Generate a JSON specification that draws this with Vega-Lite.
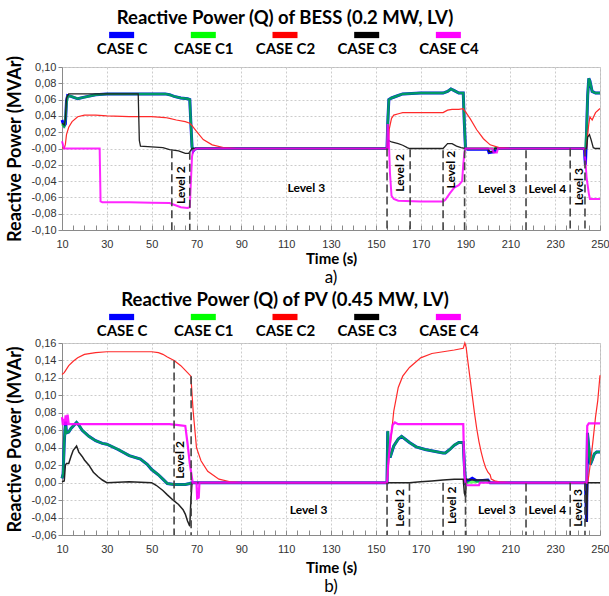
{
"$schema": "https://vega.github.io/schema/vega-lite/v6.json",
"padding": {"left": 6, "top": 9, "right": 0, "bottom": 0},
"background": "white",
"config": {
  "font": "Lato",
  "view": {"stroke": "#bdbdbd"},
  "axis": {"labelFont": "Liberation Sans", "labelFontSize": 11, "labelColor": "#333333", "domainColor": "#8a8a8a", "tickColor": "#8a8a8a", "gridColor": "#cccccc", "gridDash": [2, 2], "titleFont": "Lato", "titleFontWeight": "bold", "titleColor": "#000000"},
  "title": {"font": "Lato", "color": "#000000"}
},
"datasets": {
  "cases": [{"case": "CASE C"}, {"case": "CASE C1"}, {"case": "CASE C2"}, {"case": "CASE C3"}, {"case": "CASE C4"}],
  "bess": [
    {"t":10,"q":0.035,"c":"C"},{"t":10.5,"q":0.031,"c":"C"},{"t":11,"q":0.028,"c":"C"},{"t":11.5,"q":0.03,"c":"C"},{"t":12,"q":0.058,"c":"C"},{"t":12.5,"q":0.065,"c":"C"},{"t":14,"q":0.064,"c":"C"},{"t":17,"q":0.061,"c":"C"},{"t":20,"q":0.063,"c":"C"},{"t":25,"q":0.066,"c":"C"},{"t":30,"q":0.067,"c":"C"},{"t":44,"q":0.067,"c":"C"},{"t":50,"q":0.067,"c":"C"},{"t":56,"q":0.067,"c":"C"},{"t":58,"q":0.066,"c":"C"},{"t":60,"q":0.064,"c":"C"},{"t":63,"q":0.062,"c":"C"},{"t":66,"q":0.061,"c":"C"},{"t":67,"q":0.06,"c":"C"},{"t":67.5,"q":0.03,"c":"C"},{"t":68,"q":0.002,"c":"C"},{"t":68.5,"q":-0.003,"c":"C"},{"t":69,"q":-0.001,"c":"C"},{"t":70,"q":0,"c":"C"},{"t":155,"q":0,"c":"C"},{"t":155.3,"q":0.03,"c":"C"},{"t":155.8,"q":0.06,"c":"C"},{"t":157,"q":0.062,"c":"C"},{"t":160,"q":0.065,"c":"C"},{"t":162,"q":0.067,"c":"C"},{"t":170,"q":0.068,"c":"C"},{"t":180,"q":0.068,"c":"C"},{"t":182,"q":0.07,"c":"C"},{"t":183.5,"q":0.073,"c":"C"},{"t":185,"q":0.071,"c":"C"},{"t":187,"q":0.068,"c":"C"},{"t":189,"q":0.068,"c":"C"},{"t":189.5,"q":0.03,"c":"C"},{"t":190,"q":0,"c":"C"},{"t":191,"q":-0.001,"c":"C"},{"t":200,"q":-0.001,"c":"C"},{"t":200.5,"q":-0.005,"c":"C"},{"t":203,"q":-0.004,"c":"C"},{"t":203.5,"q":0,"c":"C"},{"t":243,"q":0,"c":"C"},{"t":243.5,"q":-0.02,"c":"C"},{"t":244,"q":0.02,"c":"C"},{"t":244.5,"q":0.065,"c":"C"},{"t":245,"q":0.086,"c":"C"},{"t":245.5,"q":0.083,"c":"C"},{"t":246.5,"q":0.07,"c":"C"},{"t":248,"q":0.068,"c":"C"},{"t":250,"q":0.068,"c":"C"},
    {"t":10,"q":0.03,"c":"C1"},{"t":10.5,"q":0.028,"c":"C1"},{"t":11,"q":0.027,"c":"C1"},{"t":11.5,"q":0.035,"c":"C1"},{"t":12,"q":0.055,"c":"C1"},{"t":12.5,"q":0.064,"c":"C1"},{"t":14,"q":0.064,"c":"C1"},{"t":17,"q":0.061,"c":"C1"},{"t":20,"q":0.063,"c":"C1"},{"t":25,"q":0.066,"c":"C1"},{"t":30,"q":0.067,"c":"C1"},{"t":44,"q":0.067,"c":"C1"},{"t":50,"q":0.067,"c":"C1"},{"t":56,"q":0.067,"c":"C1"},{"t":58,"q":0.066,"c":"C1"},{"t":60,"q":0.064,"c":"C1"},{"t":63,"q":0.062,"c":"C1"},{"t":66,"q":0.061,"c":"C1"},{"t":67,"q":0.06,"c":"C1"},{"t":67.5,"q":0.03,"c":"C1"},{"t":68,"q":0.002,"c":"C1"},{"t":68.5,"q":-0.002,"c":"C1"},{"t":69,"q":-0.001,"c":"C1"},{"t":70,"q":0,"c":"C1"},{"t":155,"q":0,"c":"C1"},{"t":155.3,"q":0.03,"c":"C1"},{"t":155.8,"q":0.06,"c":"C1"},{"t":157,"q":0.062,"c":"C1"},{"t":160,"q":0.065,"c":"C1"},{"t":162,"q":0.067,"c":"C1"},{"t":170,"q":0.068,"c":"C1"},{"t":180,"q":0.068,"c":"C1"},{"t":182,"q":0.07,"c":"C1"},{"t":183.5,"q":0.073,"c":"C1"},{"t":185,"q":0.071,"c":"C1"},{"t":187,"q":0.068,"c":"C1"},{"t":189,"q":0.068,"c":"C1"},{"t":189.5,"q":0.03,"c":"C1"},{"t":190,"q":0,"c":"C1"},{"t":191,"q":0,"c":"C1"},{"t":243.5,"q":0,"c":"C1"},{"t":244,"q":0.02,"c":"C1"},{"t":244.5,"q":0.065,"c":"C1"},{"t":245,"q":0.086,"c":"C1"},{"t":245.5,"q":0.083,"c":"C1"},{"t":246.5,"q":0.07,"c":"C1"},{"t":248,"q":0.068,"c":"C1"},{"t":250,"q":0.068,"c":"C1"},
    {"t":10,"q":0.001,"c":"C2"},{"t":11,"q":0,"c":"C2"},{"t":11.5,"q":0.005,"c":"C2"},{"t":12,"q":0.017,"c":"C2"},{"t":13,"q":0.026,"c":"C2"},{"t":14.5,"q":0.033,"c":"C2"},{"t":17,"q":0.039,"c":"C2"},{"t":20,"q":0.041,"c":"C2"},{"t":25,"q":0.041,"c":"C2"},{"t":30,"q":0.04,"c":"C2"},{"t":40,"q":0.039,"c":"C2"},{"t":50,"q":0.039,"c":"C2"},{"t":56,"q":0.038,"c":"C2"},{"t":58,"q":0.037,"c":"C2"},{"t":61,"q":0.035,"c":"C2"},{"t":65,"q":0.033,"c":"C2"},{"t":67,"q":0.031,"c":"C2"},{"t":68,"q":0.028,"c":"C2"},{"t":70,"q":0.021,"c":"C2"},{"t":73,"q":0.011,"c":"C2"},{"t":77,"q":0.0045,"c":"C2"},{"t":82,"q":0.0012,"c":"C2"},{"t":88,"q":0,"c":"C2"},{"t":155.5,"q":0,"c":"C2"},{"t":156,"q":0.024,"c":"C2"},{"t":157,"q":0.037,"c":"C2"},{"t":158,"q":0.041,"c":"C2"},{"t":160.5,"q":0.043,"c":"C2"},{"t":162,"q":0.044,"c":"C2"},{"t":170,"q":0.044,"c":"C2"},{"t":180,"q":0.044,"c":"C2"},{"t":182,"q":0.047,"c":"C2"},{"t":184,"q":0.048,"c":"C2"},{"t":187,"q":0.048,"c":"C2"},{"t":189,"q":0.049,"c":"C2"},{"t":190,"q":0.045,"c":"C2"},{"t":192,"q":0.037,"c":"C2"},{"t":195,"q":0.023,"c":"C2"},{"t":198,"q":0.012,"c":"C2"},{"t":201,"q":0.0045,"c":"C2"},{"t":205,"q":0.001,"c":"C2"},{"t":210,"q":0,"c":"C2"},{"t":244,"q":0,"c":"C2"},{"t":244.5,"q":0.017,"c":"C2"},{"t":245,"q":0.03,"c":"C2"},{"t":245.5,"q":0.039,"c":"C2"},{"t":246.5,"q":0.035,"c":"C2"},{"t":248,"q":0.044,"c":"C2"},{"t":250,"q":0.049,"c":"C2"},
    {"t":10,"q":0.031,"c":"C3"},{"t":11,"q":0.029,"c":"C3"},{"t":11.5,"q":0.035,"c":"C3"},{"t":12,"q":0.062,"c":"C3"},{"t":13,"q":0.067,"c":"C3"},{"t":44,"q":0.067,"c":"C3"},{"t":44.5,"q":0.01,"c":"C3"},{"t":45,"q":0.003,"c":"C3"},{"t":50,"q":0.002,"c":"C3"},{"t":55,"q":0.001,"c":"C3"},{"t":58,"q":-0.0015,"c":"C3"},{"t":62,"q":-0.003,"c":"C3"},{"t":65,"q":-0.006,"c":"C3"},{"t":66.5,"q":-0.006,"c":"C3"},{"t":67,"q":-0.004,"c":"C3"},{"t":68,"q":0,"c":"C3"},{"t":155,"q":0,"c":"C3"},{"t":155.5,"q":0.01,"c":"C3"},{"t":157,"q":0.008,"c":"C3"},{"t":160,"q":0.006,"c":"C3"},{"t":162,"q":0.004,"c":"C3"},{"t":164,"q":0.001,"c":"C3"},{"t":165,"q":0,"c":"C3"},{"t":180,"q":0,"c":"C3"},{"t":182,"q":0.006,"c":"C3"},{"t":184,"q":0.006,"c":"C3"},{"t":186,"q":0.003,"c":"C3"},{"t":188,"q":0.001,"c":"C3"},{"t":190,"q":0,"c":"C3"},{"t":200,"q":0,"c":"C3"},{"t":200.5,"q":-0.004,"c":"C3"},{"t":202,"q":-0.004,"c":"C3"},{"t":203,"q":0,"c":"C3"},{"t":244,"q":0,"c":"C3"},{"t":244.5,"q":0.014,"c":"C3"},{"t":245.3,"q":0.017,"c":"C3"},{"t":246,"q":0.011,"c":"C3"},{"t":247,"q":0.001,"c":"C3"},{"t":248,"q":0,"c":"C3"},{"t":250,"q":0,"c":"C3"},
    {"t":10,"q":0.009,"c":"C4"},{"t":10.5,"q":0.004,"c":"C4"},{"t":11,"q":0,"c":"C4"},{"t":26.8,"q":0,"c":"C4"},{"t":27.2,"q":-0.065,"c":"C4"},{"t":28,"q":-0.066,"c":"C4"},{"t":40,"q":-0.066,"c":"C4"},{"t":50,"q":-0.0665,"c":"C4"},{"t":58,"q":-0.067,"c":"C4"},{"t":60,"q":-0.069,"c":"C4"},{"t":63,"q":-0.072,"c":"C4"},{"t":66,"q":-0.073,"c":"C4"},{"t":67,"q":-0.072,"c":"C4"},{"t":67.5,"q":-0.04,"c":"C4"},{"t":68,"q":-0.01,"c":"C4"},{"t":68.5,"q":-0.003,"c":"C4"},{"t":70,"q":0,"c":"C4"},{"t":155,"q":0,"c":"C4"},{"t":155.3,"q":0.03,"c":"C4"},{"t":155.8,"q":0.01,"c":"C4"},{"t":156.3,"q":-0.03,"c":"C4"},{"t":157,"q":-0.058,"c":"C4"},{"t":158,"q":-0.062,"c":"C4"},{"t":160,"q":-0.064,"c":"C4"},{"t":170,"q":-0.065,"c":"C4"},{"t":180,"q":-0.065,"c":"C4"},{"t":181,"q":-0.063,"c":"C4"},{"t":183,"q":-0.055,"c":"C4"},{"t":185,"q":-0.048,"c":"C4"},{"t":187,"q":-0.045,"c":"C4"},{"t":188.5,"q":-0.04,"c":"C4"},{"t":189,"q":-0.02,"c":"C4"},{"t":189.5,"q":-0.005,"c":"C4"},{"t":190,"q":0,"c":"C4"},{"t":202,"q":0,"c":"C4"},{"t":202.5,"q":-0.005,"c":"C4"},{"t":204,"q":-0.005,"c":"C4"},{"t":204.5,"q":0,"c":"C4"},{"t":243,"q":0,"c":"C4"},{"t":243.5,"q":-0.015,"c":"C4"},{"t":244,"q":-0.035,"c":"C4"},{"t":245,"q":-0.055,"c":"C4"},{"t":245.5,"q":-0.062,"c":"C4"},{"t":250,"q":-0.062,"c":"C4"}
  ],
  "pv": [
    {"t":10,"q":0.005,"c":"C"},{"t":10.5,"q":0.01,"c":"C"},{"t":11,"q":0.045,"c":"C"},{"t":11.3,"q":0.06,"c":"C"},{"t":11.6,"q":0.07,"c":"C"},{"t":12,"q":0.057,"c":"C"},{"t":13,"q":0.058,"c":"C"},{"t":14,"q":0.062,"c":"C"},{"t":16.5,"q":0.069,"c":"C"},{"t":17.5,"q":0.066,"c":"C"},{"t":19,"q":0.06,"c":"C"},{"t":22,"q":0.053,"c":"C"},{"t":25,"q":0.048,"c":"C"},{"t":28,"q":0.045,"c":"C"},{"t":30,"q":0.044,"c":"C"},{"t":35,"q":0.038,"c":"C"},{"t":40,"q":0.031,"c":"C"},{"t":45,"q":0.027,"c":"C"},{"t":48,"q":0.021,"c":"C"},{"t":50,"q":0.015,"c":"C"},{"t":53,"q":0.009,"c":"C"},{"t":55,"q":0.004,"c":"C"},{"t":57,"q":-0.001,"c":"C"},{"t":60,"q":-0.002,"c":"C"},{"t":65,"q":-0.002,"c":"C"},{"t":67,"q":-0.001,"c":"C"},{"t":68,"q":0,"c":"C"},{"t":155,"q":0,"c":"C"},{"t":155.3,"q":0.059,"c":"C"},{"t":155.7,"q":0.03,"c":"C"},{"t":156.5,"q":0.03,"c":"C"},{"t":158,"q":0.042,"c":"C"},{"t":160,"q":0.05,"c":"C"},{"t":161.5,"q":0.053,"c":"C"},{"t":163,"q":0.05,"c":"C"},{"t":165,"q":0.046,"c":"C"},{"t":168,"q":0.041,"c":"C"},{"t":172,"q":0.038,"c":"C"},{"t":176,"q":0.036,"c":"C"},{"t":180,"q":0.034,"c":"C"},{"t":181,"q":0.034,"c":"C"},{"t":183,"q":0.038,"c":"C"},{"t":185,"q":0.043,"c":"C"},{"t":187,"q":0.046,"c":"C"},{"t":189,"q":0.046,"c":"C"},{"t":189.5,"q":0.02,"c":"C"},{"t":190,"q":0,"c":"C"},{"t":190.5,"q":0.001,"c":"C"},{"t":193,"q":0.005,"c":"C"},{"t":195,"q":0.002,"c":"C"},{"t":200,"q":0.003,"c":"C"},{"t":201,"q":0,"c":"C"},{"t":243.5,"q":0,"c":"C"},{"t":244,"q":-0.045,"c":"C"},{"t":244.4,"q":0.057,"c":"C"},{"t":245,"q":0.04,"c":"C"},{"t":245.7,"q":0.021,"c":"C"},{"t":246.5,"q":0.026,"c":"C"},{"t":247.5,"q":0.033,"c":"C"},{"t":248.5,"q":0.035,"c":"C"},{"t":250,"q":0.035,"c":"C"},
    {"t":10,"q":0.005,"c":"C1"},{"t":10.5,"q":0.01,"c":"C1"},{"t":11,"q":0.045,"c":"C1"},{"t":11.3,"q":0.06,"c":"C1"},{"t":11.6,"q":0.065,"c":"C1"},{"t":12,"q":0.057,"c":"C1"},{"t":13,"q":0.058,"c":"C1"},{"t":14,"q":0.062,"c":"C1"},{"t":16.5,"q":0.069,"c":"C1"},{"t":17.5,"q":0.066,"c":"C1"},{"t":19,"q":0.06,"c":"C1"},{"t":22,"q":0.053,"c":"C1"},{"t":25,"q":0.048,"c":"C1"},{"t":28,"q":0.045,"c":"C1"},{"t":30,"q":0.044,"c":"C1"},{"t":35,"q":0.038,"c":"C1"},{"t":40,"q":0.031,"c":"C1"},{"t":45,"q":0.027,"c":"C1"},{"t":48,"q":0.021,"c":"C1"},{"t":50,"q":0.015,"c":"C1"},{"t":53,"q":0.009,"c":"C1"},{"t":55,"q":0.004,"c":"C1"},{"t":57,"q":-0.001,"c":"C1"},{"t":60,"q":-0.002,"c":"C1"},{"t":65,"q":-0.002,"c":"C1"},{"t":67,"q":-0.001,"c":"C1"},{"t":68,"q":0,"c":"C1"},{"t":155,"q":0,"c":"C1"},{"t":155.3,"q":0.059,"c":"C1"},{"t":155.7,"q":0.03,"c":"C1"},{"t":156.5,"q":0.03,"c":"C1"},{"t":158,"q":0.042,"c":"C1"},{"t":160,"q":0.05,"c":"C1"},{"t":161.5,"q":0.053,"c":"C1"},{"t":163,"q":0.05,"c":"C1"},{"t":165,"q":0.046,"c":"C1"},{"t":168,"q":0.041,"c":"C1"},{"t":172,"q":0.038,"c":"C1"},{"t":176,"q":0.036,"c":"C1"},{"t":180,"q":0.034,"c":"C1"},{"t":181,"q":0.034,"c":"C1"},{"t":183,"q":0.038,"c":"C1"},{"t":185,"q":0.043,"c":"C1"},{"t":187,"q":0.046,"c":"C1"},{"t":189,"q":0.046,"c":"C1"},{"t":189.5,"q":0.02,"c":"C1"},{"t":190,"q":0,"c":"C1"},{"t":200,"q":0.002,"c":"C1"},{"t":201,"q":0,"c":"C1"},{"t":244,"q":0,"c":"C1"},{"t":244.4,"q":0.057,"c":"C1"},{"t":245,"q":0.04,"c":"C1"},{"t":245.7,"q":0.021,"c":"C1"},{"t":246.5,"q":0.026,"c":"C1"},{"t":247.5,"q":0.033,"c":"C1"},{"t":248.5,"q":0.035,"c":"C1"},{"t":250,"q":0.035,"c":"C1"},
    {"t":10,"q":0.124,"c":"C2"},{"t":11,"q":0.126,"c":"C2"},{"t":12,"q":0.13,"c":"C2"},{"t":13,"q":0.134,"c":"C2"},{"t":15,"q":0.139,"c":"C2"},{"t":17,"q":0.143,"c":"C2"},{"t":20,"q":0.147,"c":"C2"},{"t":25,"q":0.149,"c":"C2"},{"t":30,"q":0.15,"c":"C2"},{"t":40,"q":0.15,"c":"C2"},{"t":50,"q":0.15,"c":"C2"},{"t":53,"q":0.149,"c":"C2"},{"t":55,"q":0.147,"c":"C2"},{"t":57,"q":0.144,"c":"C2"},{"t":60,"q":0.14,"c":"C2"},{"t":63,"q":0.134,"c":"C2"},{"t":66,"q":0.126,"c":"C2"},{"t":67.5,"q":0.122,"c":"C2"},{"t":68.5,"q":0.082,"c":"C2"},{"t":70,"q":0.04,"c":"C2"},{"t":72,"q":0.025,"c":"C2"},{"t":75,"q":0.013,"c":"C2"},{"t":80,"q":0.004,"c":"C2"},{"t":85,"q":0.001,"c":"C2"},{"t":90,"q":0,"c":"C2"},{"t":155,"q":0,"c":"C2"},{"t":156,"q":0.032,"c":"C2"},{"t":158,"q":0.082,"c":"C2"},{"t":160,"q":0.109,"c":"C2"},{"t":162,"q":0.122,"c":"C2"},{"t":165,"q":0.132,"c":"C2"},{"t":170,"q":0.143,"c":"C2"},{"t":175,"q":0.148,"c":"C2"},{"t":180,"q":0.15,"c":"C2"},{"t":185,"q":0.152,"c":"C2"},{"t":189,"q":0.154,"c":"C2"},{"t":189.7,"q":0.16,"c":"C2"},{"t":190.3,"q":0.155,"c":"C2"},{"t":191,"q":0.14,"c":"C2"},{"t":192,"q":0.12,"c":"C2"},{"t":193,"q":0.1,"c":"C2"},{"t":194,"q":0.08,"c":"C2"},{"t":195,"q":0.062,"c":"C2"},{"t":196,"q":0.047,"c":"C2"},{"t":197,"q":0.035,"c":"C2"},{"t":198,"q":0.025,"c":"C2"},{"t":199,"q":0.017,"c":"C2"},{"t":200,"q":0.012,"c":"C2"},{"t":201,"q":0.009,"c":"C2"},{"t":201.5,"q":0.004,"c":"C2"},{"t":203,"q":0.002,"c":"C2"},{"t":205,"q":0.001,"c":"C2"},{"t":210,"q":0,"c":"C2"},{"t":244.5,"q":0,"c":"C2"},{"t":245,"q":0.008,"c":"C2"},{"t":246,"q":0.028,"c":"C2"},{"t":247,"q":0.051,"c":"C2"},{"t":248,"q":0.075,"c":"C2"},{"t":249,"q":0.094,"c":"C2"},{"t":250,"q":0.123,"c":"C2"},
    {"t":10,"q":0.001,"c":"C3"},{"t":11,"q":0.002,"c":"C3"},{"t":11.5,"q":0.02,"c":"C3"},{"t":12,"q":0.022,"c":"C3"},{"t":13,"q":0.022,"c":"C3"},{"t":14,"q":0.03,"c":"C3"},{"t":15,"q":0.037,"c":"C3"},{"t":16.5,"q":0.042,"c":"C3"},{"t":17.5,"q":0.035,"c":"C3"},{"t":19,"q":0.03,"c":"C3"},{"t":20,"q":0.026,"c":"C3"},{"t":22,"q":0.02,"c":"C3"},{"t":24,"q":0.012,"c":"C3"},{"t":26,"q":0.007,"c":"C3"},{"t":28,"q":0.003,"c":"C3"},{"t":30,"q":0,"c":"C3"},{"t":40,"q":0.001,"c":"C3"},{"t":50,"q":0,"c":"C3"},{"t":52,"q":-0.003,"c":"C3"},{"t":55,"q":-0.009,"c":"C3"},{"t":57,"q":-0.014,"c":"C3"},{"t":60,"q":-0.021,"c":"C3"},{"t":62,"q":-0.025,"c":"C3"},{"t":64,"q":-0.031,"c":"C3"},{"t":65,"q":-0.036,"c":"C3"},{"t":66,"q":-0.044,"c":"C3"},{"t":67,"q":-0.05,"c":"C3"},{"t":67.5,"q":-0.02,"c":"C3"},{"t":68,"q":0,"c":"C3"},{"t":155,"q":0,"c":"C3"},{"t":165,"q":0,"c":"C3"},{"t":170,"q":0.001,"c":"C3"},{"t":175,"q":0.002,"c":"C3"},{"t":180,"q":0.003,"c":"C3"},{"t":185,"q":0.004,"c":"C3"},{"t":189,"q":0.004,"c":"C3"},{"t":189.5,"q":-0.012,"c":"C3"},{"t":190,"q":-0.016,"c":"C3"},{"t":190.3,"q":0.004,"c":"C3"},{"t":193,"q":0.003,"c":"C3"},{"t":200,"q":0.003,"c":"C3"},{"t":201,"q":0,"c":"C3"},{"t":243.5,"q":0,"c":"C3"},{"t":244,"q":-0.045,"c":"C3"},{"t":244.5,"q":0,"c":"C3"},{"t":250,"q":0,"c":"C3"},
    {"t":10,"q":0.075,"c":"C4"},{"t":10.4,"q":0.066,"c":"C4"},{"t":10.8,"q":0.073,"c":"C4"},{"t":11.2,"q":0.066,"c":"C4"},{"t":11.6,"q":0.077,"c":"C4"},{"t":12,"q":0.066,"c":"C4"},{"t":12.5,"q":0.078,"c":"C4"},{"t":13,"q":0.067,"c":"C4"},{"t":20,"q":0.067,"c":"C4"},{"t":30,"q":0.067,"c":"C4"},{"t":40,"q":0.067,"c":"C4"},{"t":50,"q":0.067,"c":"C4"},{"t":58,"q":0.067,"c":"C4"},{"t":62,"q":0.066,"c":"C4"},{"t":65,"q":0.065,"c":"C4"},{"t":66,"q":0.045,"c":"C4"},{"t":67,"q":0.022,"c":"C4"},{"t":68.3,"q":0,"c":"C4"},{"t":70,"q":0,"c":"C4"},{"t":70.3,"q":-0.018,"c":"C4"},{"t":71,"q":-0.017,"c":"C4"},{"t":71.3,"q":0,"c":"C4"},{"t":155,"q":0,"c":"C4"},{"t":155.5,"q":0.02,"c":"C4"},{"t":156.5,"q":0.05,"c":"C4"},{"t":157.5,"q":0.066,"c":"C4"},{"t":158.5,"q":0.069,"c":"C4"},{"t":160,"q":0.067,"c":"C4"},{"t":189,"q":0.067,"c":"C4"},{"t":189.5,"q":0.01,"c":"C4"},{"t":190,"q":0,"c":"C4"},{"t":190.5,"q":-0.003,"c":"C4"},{"t":196,"q":-0.003,"c":"C4"},{"t":196.5,"q":0,"c":"C4"},{"t":244,"q":0,"c":"C4"},{"t":244.3,"q":0.065,"c":"C4"},{"t":245,"q":0.068,"c":"C4"},{"t":250,"q":0.068,"c":"C4"}
  ],
  "rules_a": [{"t":59,"q":-0.002,"q2":-0.1},{"t":67,"q":-0.004,"q2":-0.1},{"t":155,"q":0,"q2":-0.1},{"t":165.3,"q":-0.001,"q2":-0.1},{"t":180,"q":-0.002,"q2":-0.1},{"t":189.6,"q":-0.002,"q2":-0.1},{"t":217,"q":-0.002,"q2":-0.1},{"t":236.7,"q":0,"q2":-0.1},{"t":243.3,"q":0,"q2":-0.1}],
  "rules_b": [{"t":60,"q":0.14,"q2":-0.06},{"t":67.6,"q":0.122,"q2":-0.06},{"t":155,"q":0,"q2":-0.06},{"t":165,"q":0,"q2":-0.06},{"t":180,"q":0,"q2":-0.06},{"t":190,"q":0,"q2":-0.06},{"t":217,"q":-0.001,"q2":-0.06},{"t":236.7,"q":0,"q2":-0.06},{"t":243.3,"q":0,"q2":-0.06}],
  "lv_a": [{"t":63,"q":-0.045,"label":"Level 2"},{"t":161,"q":-0.03,"label":"Level 2"},{"t":183.5,"q":-0.026,"label":"Level 2"},{"t":240.5,"q":-0.047,"label":"Level 3"}],
  "lh_a": [{"t":119,"q":-0.049,"label":"Level 3"},{"t":204,"q":-0.05,"label":"Level 3"},{"t":226.5,"q":-0.05,"label":"Level 4"}],
  "lv_b": [{"t":62.7,"q":0.026,"label":"Level 2"},{"t":161,"q":-0.029,"label":"Level 2"},{"t":184,"q":-0.026,"label":"Level 2"},{"t":240,"q":-0.029,"label":"Level 3"}],
  "lh_b": [{"t":120,"q":-0.031,"label":"Level 3"},{"t":204,"q":-0.031,"label":"Level 3"},{"t":226.5,"q":-0.031,"label":"Level 4"}]
},
"spacing": 4,
"vconcat": [
  {
    "spacing": -2,
    "vconcat": [
      {
        "title": {"text": "Reactive Power (Q) of BESS (0.2 MW, LV)", "fontSize": 18.5, "fontWeight": "bold", "anchor": "middle", "offset": 4},
        "width": 446, "height": 6,
        "view": {"stroke": null},
        "data": {"name": "cases"},
        "mark": {"type": "point", "shape": "M-1,-0.25H1V0.25H-1Z", "filled": true, "size": 625, "opacity": 1},
        "encoding": {
          "x": {"field": "case", "type": "nominal", "sort": null, "scale": {"type": "point", "padding": 0.73}, "axis": {"title": null, "domain": false, "ticks": false, "grid": false, "labelAngle": 0, "labelFont": "Lato", "labelFontSize": 15, "labelFontWeight": "bold", "labelColor": "#000000", "labelPadding": 3}},
          "color": {"field": "case", "type": "nominal", "legend": null, "scale": {"domain": ["CASE C", "CASE C1", "CASE C2", "CASE C3", "CASE C4"], "range": ["#0000ff", "#00ff00", "#ff0000", "#000000", "#ff00ff"]}}
        }
      },
      {
        "width": 538, "height": 163,
        "title": {"text": "a)", "orient": "bottom", "fontSize": 17, "fontWeight": "normal", "offset": 4},
        "encoding": {
          "x": {"field": "t", "type": "quantitative", "scale": {"domain": [10, 250], "nice": false, "zero": false},
                "axis": {"title": "Time (s)", "titleFontSize": 15, "titlePadding": 2, "labelFlush": false, "values": [10,15,20,25,30,35,40,45,50,55,60,65,70,75,80,85,90,95,100,105,110,115,120,125,130,135,140,145,150,155,160,165,170,175,180,185,190,195,200,205,210,215,220,225,230,235,240,245,250], "labelExpr": "(datum.value - 10) % 20 == 0 ? datum.label : ''", "tickSize": -5, "labelPadding": 13, "gridOpacity": {"condition": {"test": "(datum.value - 10) % 20 == 0", "value": 1}, "value": 0}}},
          "y": {"field": "q", "type": "quantitative", "scale": {"domain": [-0.1, 0.1], "nice": false, "zero": false},
                "axis": {"title": "Reactive Power (MVAr)", "titleFontSize": 18, "titlePadding": 6, "values": [-0.1,-0.08,-0.06,-0.04,-0.02,0,0.02,0.04,0.06,0.08,0.1], "tickSize": 4, "labelPadding": 2, "labelExpr": "datum.value > 0.001 ? replace(format(datum.value, '.2f'), '.', ',') : '-' + replace(format(abs(datum.value), '.2f'), '.', ',')"}}
        },
        "layer": [
          {"data": {"name": "bess"}, "transform": [{"filter": "datum.c == 'C'"}], "mark": {"type": "line", "color": "#0000ff", "strokeWidth": 3}},
          {"data": {"name": "bess"}, "transform": [{"filter": "datum.c == 'C1'"}], "mark": {"type": "line", "color": "#00ff00", "strokeWidth": 2.5, "opacity": 0.6}},
          {"data": {"name": "bess"}, "transform": [{"filter": "datum.c == 'C2'"}], "mark": {"type": "line", "color": "#ff2a2a", "strokeWidth": 1.2}},
          {"data": {"name": "bess"}, "transform": [{"filter": "datum.c == 'C3'"}], "mark": {"type": "line", "color": "#222222", "strokeWidth": 1.3}},
          {"data": {"name": "bess"}, "transform": [{"filter": "datum.c == 'C4'"}], "mark": {"type": "line", "color": "#ff00ff", "strokeWidth": 2, "opacity": 0.85}},
          {"data": {"name": "rules_a"}, "mark": {"type": "rule", "color": "#444444", "strokeWidth": 1.6, "strokeDash": [8, 4]}, "encoding": {"y2": {"field": "q2"}}},
          {"data": {"name": "lv_a"}, "mark": {"type": "text", "angle": 270, "font": "Lato", "fontWeight": "bold", "fontSize": 12, "color": "#000000"}, "encoding": {"text": {"field": "label"}}},
          {"data": {"name": "lh_a"}, "mark": {"type": "text", "font": "Lato", "fontWeight": "bold", "fontSize": 12, "color": "#000000"}, "encoding": {"text": {"field": "label"}}}
        ]
      }
    ]
  },
  {
    "spacing": -2,
    "vconcat": [
      {
        "title": {"text": "Reactive Power (Q) of PV (0.45 MW, LV)", "fontSize": 18.5, "fontWeight": "bold", "anchor": "middle", "offset": 4},
        "width": 446, "height": 6,
        "view": {"stroke": null},
        "data": {"name": "cases"},
        "mark": {"type": "point", "shape": "M-1,-0.25H1V0.25H-1Z", "filled": true, "size": 625, "opacity": 1},
        "encoding": {
          "x": {"field": "case", "type": "nominal", "sort": null, "scale": {"type": "point", "padding": 0.73}, "axis": {"title": null, "domain": false, "ticks": false, "grid": false, "labelAngle": 0, "labelFont": "Lato", "labelFontSize": 15, "labelFontWeight": "bold", "labelColor": "#000000", "labelPadding": 3}},
          "color": {"field": "case", "type": "nominal", "legend": null, "scale": {"domain": ["CASE C", "CASE C1", "CASE C2", "CASE C3", "CASE C4"], "range": ["#0000ff", "#00ff00", "#ff0000", "#000000", "#ff00ff"]}}
        }
      },
      {
        "width": 538, "height": 192,
        "title": {"text": "b)", "orient": "bottom", "fontSize": 17, "fontWeight": "normal", "offset": 4},
        "encoding": {
          "x": {"field": "t", "type": "quantitative", "scale": {"domain": [10, 250], "nice": false, "zero": false},
                "axis": {"title": "Time (s)", "titleFontSize": 15, "titlePadding": 6, "labelFlush": false, "values": [10,15,20,25,30,35,40,45,50,55,60,65,70,75,80,85,90,95,100,105,110,115,120,125,130,135,140,145,150,155,160,165,170,175,180,185,190,195,200,205,210,215,220,225,230,235,240,245,250], "labelExpr": "(datum.value - 10) % 20 == 0 ? datum.label : ''", "tickSize": -5, "labelPadding": 13, "gridOpacity": {"condition": {"test": "(datum.value - 10) % 20 == 0", "value": 1}, "value": 0}}},
          "y": {"field": "q", "type": "quantitative", "scale": {"domain": [-0.06, 0.16], "nice": false, "zero": false},
                "axis": {"title": "Reactive Power (MVAr)", "titleFontSize": 18, "titlePadding": 6, "values": [-0.06,-0.04,-0.02,0,0.02,0.04,0.06,0.08,0.1,0.12,0.14,0.16], "tickSize": 4, "labelPadding": 2, "labelExpr": "(datum.value < -0.001 ? '-' : '') + replace(format(abs(datum.value), '.2f'), '.', ',')"}}
        },
        "layer": [
          {"data": {"name": "pv"}, "transform": [{"filter": "datum.c == 'C'"}], "mark": {"type": "line", "color": "#0000ff", "strokeWidth": 3}},
          {"data": {"name": "pv"}, "transform": [{"filter": "datum.c == 'C1'"}], "mark": {"type": "line", "color": "#00ff00", "strokeWidth": 2.5, "opacity": 0.6}},
          {"data": {"name": "pv"}, "transform": [{"filter": "datum.c == 'C2'"}], "mark": {"type": "line", "color": "#ff2a2a", "strokeWidth": 1.2}},
          {"data": {"name": "pv"}, "transform": [{"filter": "datum.c == 'C3'"}], "mark": {"type": "line", "color": "#222222", "strokeWidth": 1.5}},
          {"data": {"name": "pv"}, "transform": [{"filter": "datum.c == 'C4'"}], "mark": {"type": "line", "color": "#ff00ff", "strokeWidth": 2.2, "opacity": 0.9}},
          {"data": {"name": "rules_b"}, "mark": {"type": "rule", "color": "#444444", "strokeWidth": 1.6, "strokeDash": [8, 4]}, "encoding": {"y2": {"field": "q2"}}},
          {"data": {"name": "lv_b"}, "mark": {"type": "text", "angle": 270, "font": "Lato", "fontWeight": "bold", "fontSize": 12, "color": "#000000"}, "encoding": {"text": {"field": "label"}}},
          {"data": {"name": "lh_b"}, "mark": {"type": "text", "font": "Lato", "fontWeight": "bold", "fontSize": 12, "color": "#000000"}, "encoding": {"text": {"field": "label"}}}
        ]
      }
    ]
  }
]
}
